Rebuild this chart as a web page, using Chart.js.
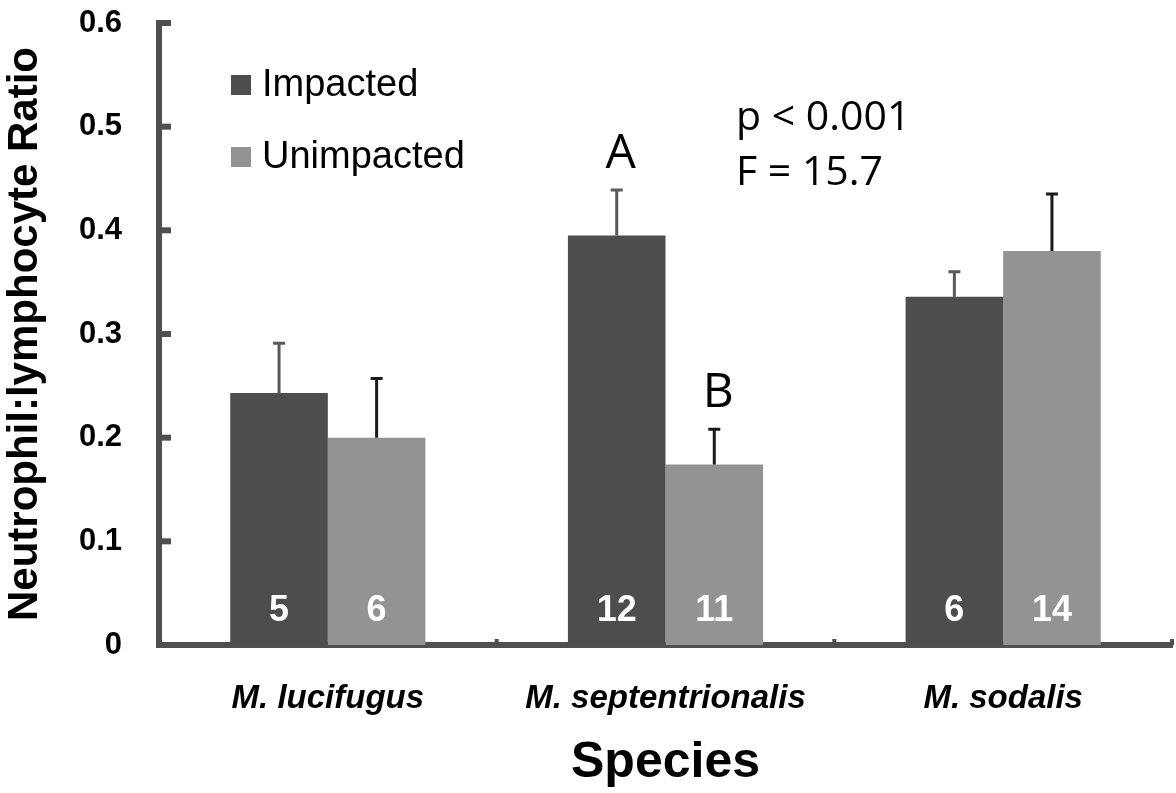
<!DOCTYPE html>
<html>
<head>
<meta charset="utf-8">
<script src="https://cdn.jsdelivr.net/npm/chart.js@4.4.1/dist/chart.umd.min.js"></script>
<style>
  body { margin: 0; background: #fff; }
  canvas { display: block; }
</style>
</head>
<body>
<canvas id="nlChart" width="1176" height="793"></canvas>
<script>
const species = ['M. lucifugus', 'M. septentrionalis', 'M. sodalis'];
const impacted = [0.243, 0.395, 0.336];
const impactedErr = [0.048, 0.044, 0.024];
const unimpacted = [0.200, 0.174, 0.380];
const unimpactedErr = [0.057, 0.034, 0.055];
const nImpacted = [5, 12, 6];
const nUnimpacted = [6, 11, 14];
const lettersImpacted = ['', 'A', ''];
const lettersUnimpacted = ['', 'B', ''];
const statsLines = ['p < 0.001', 'F = 15.7'];
const yTicks = [0, 0.1, 0.2, 0.3, 0.4, 0.5, 0.6];

const axisColor = '#4f4f4f';
const darkBar = '#4d4d4d';
const lightBar = '#939393';
const arial = "'Liberation Sans', Arial, sans-serif";
const calibriLike = "'Open Sans', 'Noto Sans', sans-serif";

const extras = {
    id: 'extras',
    afterDatasetsDraw(chart) {
        const { ctx, chartArea: area, scales: { x, y } } = chart;
        ctx.save();

        // inside tick marks on the axes
        ctx.fillStyle = axisColor;
        yTicks.slice(1).forEach(v => {
            const py = y.getPixelForValue(v);
            ctx.fillRect(area.left, py - 3, 12, 6);
        });
        for (let i = 1; i <= species.length; i++) {
            const px = x.getPixelForValue(i - 0.5);
            ctx.fillRect(px - 2, area.bottom - 6, 4, 6);
        }

        // error bars, letters and n labels
        const sets = [
            { vals: impacted, err: impactedErr, n: nImpacted, letters: lettersImpacted, color: '#5a5a5a' },
            { vals: unimpacted, err: unimpactedErr, n: nUnimpacted, letters: lettersUnimpacted, color: '#1a1a1a' }
        ];
        sets.forEach((s, di) => {
            const meta = chart.getDatasetMeta(di);
            meta.data.forEach((bar, i) => {
                const top = y.getPixelForValue(s.vals[i]);
                const et = y.getPixelForValue(s.vals[i] + s.err[i]);
                ctx.strokeStyle = s.color;
                ctx.lineWidth = 3;
                ctx.beginPath();
                ctx.moveTo(bar.x, top);
                ctx.lineTo(bar.x, et);
                ctx.moveTo(bar.x - 6, et);
                ctx.lineTo(bar.x + 6, et);
                ctx.stroke();

                ctx.fillStyle = '#fff';
                ctx.font = `bold 36px ${arial}`;
                ctx.textAlign = 'center';
                ctx.textBaseline = 'middle';
                ctx.fillText(String(s.n[i]), bar.x, y.getPixelForValue(0.033));

                if (s.letters[i]) {
                    ctx.fillStyle = '#000';
                    ctx.font = `48px ${calibriLike}`;
                    ctx.textBaseline = 'alphabetic';
                    ctx.fillText(s.letters[i], bar.x + 4, et - 22);
                }
            });
        });

        // statistics text
        ctx.fillStyle = '#000';
        ctx.font = `41px ${calibriLike}`;
        ctx.textAlign = 'left';
        ctx.textBaseline = 'alphabetic';
        ctx.fillText(statsLines[0], area.left + 577, y.getPixelForValue(0.497));
        ctx.fillText(statsLines[1], area.left + 577, y.getPixelForValue(0.444));

        // legend
        chart.data.datasets.forEach((ds, i) => {
            const cy = area.top + 62 + i * 72;
            ctx.fillStyle = ds.backgroundColor;
            ctx.fillRect(area.left + 72, cy - 10, 20, 20);
            ctx.fillStyle = '#000';
            ctx.font = `38px ${arial}`;
            ctx.textBaseline = 'middle';
            ctx.fillText(ds.label, area.left + 103, cy + 1);
        });

        ctx.restore();
    }
};

new Chart(document.getElementById('nlChart'), {
    type: 'bar',
    data: {
        labels: species,
        datasets: [
            { label: 'Impacted', data: impacted, backgroundColor: darkBar },
            { label: 'Unimpacted', data: unimpacted, backgroundColor: lightBar }
        ]
    },
    options: {
        responsive: false,
        animation: false,
        layout: { padding: { top: 23, right: 4, left: 0, bottom: 0 } },
        datasets: { bar: { barPercentage: 1, categoryPercentage: 0.578 } },
        plugins: { legend: { display: false }, tooltip: { enabled: false } },
        scales: {
            x: {
                grid: { display: false },
                border: { display: true, color: axisColor, width: 6 },
                ticks: {
                    color: '#000', padding: 26,
                    font: { family: arial, size: 33, weight: 'bold', style: 'italic' }
                },
                title: {
                    display: true, text: 'Species', color: '#000',
                    font: { family: arial, size: 50, weight: 'bold' },
                    padding: { top: 12, bottom: 0 }
                },
                afterFit(scale) { scale.height = 148; scale.paddingLeft = 0; scale.paddingRight = 0; }
            },
            y: {
                min: 0, max: 0.6,
                grid: { display: false },
                border: { display: true, color: axisColor, width: 6 },
                ticks: {
                    stepSize: 0.1, color: '#000', padding: 29,
                    font: { family: arial, size: 31, weight: 'bold' },
                    callback: v => String(Math.round(v * 10) / 10)
                },
                title: {
                    display: true, text: 'Neutrophil:lymphocyte Ratio', color: '#000',
                    font: { family: arial, size: 42, weight: 'bold' },
                    padding: { top: 0, bottom: 0 }
                },
                afterFit(scale) { scale.width = 159; scale.paddingTop = 0; scale.paddingBottom = 0; }
            }
        }
    },
    plugins: [extras]
});
</script>
</body>
</html>
